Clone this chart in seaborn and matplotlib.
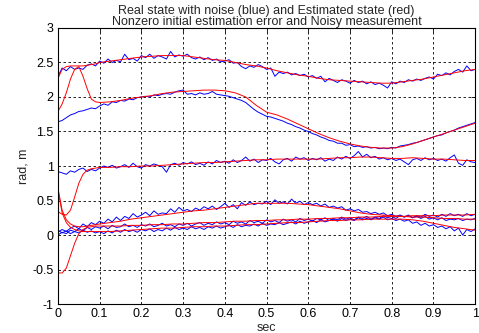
import numpy as np
import pandas as pd
import seaborn as sns
import matplotlib
matplotlib.use("Agg")
import matplotlib.pyplot as plt

# time grid of the noisy measurements (0 .. 1 sec, 101 samples)
t_meas = np.linspace(0, 1, 101)

# real state with noise (blue)
real_1 = [2.30, 2.42, 2.38, 2.44, 2.40, 2.42, 2.40, 2.46, 2.48, 2.45,
          2.52, 2.49, 2.55, 2.50, 2.53, 2.51, 2.62, 2.54, 2.56, 2.52,
          2.60, 2.57, 2.62, 2.56, 2.60, 2.58, 2.55, 2.66, 2.58, 2.61,
          2.59, 2.62, 2.57, 2.55, 2.58, 2.54, 2.57, 2.53, 2.55, 2.51,
          2.52, 2.54, 2.49, 2.50, 2.44, 2.41, 2.45, 2.43, 2.47, 2.44,
          2.40, 2.42, 2.30, 2.36, 2.34, 2.36, 2.32, 2.34, 2.31, 2.33,
          2.29, 2.31, 2.27, 2.30, 2.22, 2.27, 2.24, 2.21, 2.25, 2.23,
          2.20, 2.24, 2.21, 2.23, 2.19, 2.22, 2.18, 2.20, 2.17, 2.13,
          2.22, 2.19, 2.23, 2.21, 2.25, 2.23, 2.26, 2.24, 2.27, 2.29,
          2.26, 2.33, 2.31, 2.35, 2.32, 2.37, 2.40, 2.36, 2.45, 2.38,
          2.40]
real_2 = [1.64, 1.66, 1.70, 1.74, 1.76, 1.79, 1.80, 1.82, 1.84, 1.83,
          1.87, 1.90, 1.88, 1.93, 1.92, 1.95, 1.94, 1.97, 1.96, 1.99,
          2.00, 2.01, 2.00, 2.03, 2.02, 2.04, 2.05, 2.04, 2.07, 2.09,
          2.10, 2.04, 2.05, 2.03, 2.06, 2.04, 2.05, 2.08, 2.04, 2.03,
          2.02, 2.01, 1.99, 1.97, 1.95, 1.92, 1.87, 1.82, 1.78, 1.75,
          1.72, 1.71, 1.69, 1.67, 1.65, 1.62, 1.60, 1.57, 1.55, 1.52,
          1.50, 1.47, 1.45, 1.42, 1.40, 1.37, 1.36, 1.33, 1.33, 1.30,
          1.31, 1.28, 1.29, 1.27, 1.28, 1.26, 1.27, 1.25, 1.26, 1.25,
          1.27, 1.26, 1.29, 1.30, 1.31, 1.33, 1.34, 1.36, 1.38, 1.40,
          1.42, 1.44, 1.45, 1.48, 1.50, 1.52, 1.55, 1.57, 1.59, 1.61,
          1.63]
real_3 = [0.92, 0.90, 0.88, 0.93, 0.91, 0.95, 0.97, 0.92, 0.95, 0.93,
          0.97, 1.00, 0.98, 1.01, 0.97, 0.99, 1.02, 0.98, 1.04, 0.99,
          0.97, 1.02, 1.00, 1.03, 1.01, 0.99, 0.91, 1.02, 1.04, 1.01,
          1.05, 1.03, 1.06, 1.02, 1.04, 1.01, 1.06, 1.03, 1.08, 1.05,
          1.07, 1.04, 1.09, 1.05, 1.08, 1.13, 1.07, 1.10, 1.05, 1.09,
          1.08, 1.11, 1.06, 1.03, 1.09, 1.11, 1.07, 1.13, 1.10, 1.12,
          1.08, 1.11, 1.09, 1.12, 1.07, 1.10, 1.08, 1.13, 1.10, 1.14,
          1.11, 1.15, 1.21, 1.13, 1.17, 1.12, 1.14, 1.10, 1.12, 1.09,
          1.11, 1.08, 1.10, 1.06, 1.02, 1.09, 1.11, 1.08, 1.12, 1.09,
          1.11, 1.08, 1.10, 1.07, 1.12, 1.16, 1.04, 1.01, 1.09, 1.06,
          1.05]
real_4 = [0.04, 0.08, 0.05, 0.10, 0.13, 0.09, 0.16, 0.12, 0.18, 0.15,
          0.20, 0.17, 0.23, 0.19, 0.26, 0.21, 0.27, 0.24, 0.31, 0.26,
          0.29, 0.33, 0.28, 0.35, 0.30, 0.32, 0.31, 0.38, 0.33, 0.40,
          0.35, 0.37, 0.34, 0.39, 0.36, 0.41, 0.38, 0.42, 0.37, 0.41,
          0.46, 0.40, 0.44, 0.38, 0.47, 0.43, 0.48, 0.44, 0.46, 0.45,
          0.49, 0.44, 0.51, 0.46, 0.48, 0.45, 0.52, 0.46, 0.49, 0.44,
          0.47, 0.44, 0.46, 0.42, 0.45, 0.40, 0.42, 0.39, 0.41, 0.36,
          0.38, 0.35, 0.37, 0.33, 0.34, 0.31, 0.33, 0.30, 0.32, 0.28,
          0.30, 0.27, 0.29, 0.26, 0.28, 0.25, 0.27, 0.24, 0.27, 0.23,
          0.25, 0.22, 0.25, 0.21, 0.23, 0.22, 0.24, 0.21, 0.23, 0.22,
          0.24]
real_5 = [0.00, 0.04, 0.02, 0.07, 0.05, 0.09, 0.06, 0.11, 0.08, 0.12,
          0.10, 0.13, 0.09, 0.14, 0.11, 0.12, 0.16, 0.12, 0.14, 0.11,
          0.15, 0.13, 0.16, 0.12, 0.14, 0.17, 0.13, 0.15, 0.12, 0.16,
          0.14, 0.17, 0.13, 0.16, 0.18, 0.14, 0.17, 0.15, 0.19, 0.16,
          0.18, 0.15, 0.20, 0.17, 0.19, 0.16, 0.21, 0.18, 0.20, 0.17,
          0.22, 0.19, 0.21, 0.18, 0.23, 0.20, 0.22, 0.19, 0.24, 0.21,
          0.23, 0.20, 0.24, 0.22, 0.25, 0.21, 0.24, 0.22, 0.26, 0.23,
          0.25, 0.22, 0.26, 0.24, 0.27, 0.23, 0.26, 0.24, 0.28, 0.25,
          0.27, 0.24, 0.28, 0.26, 0.29, 0.25, 0.28, 0.26, 0.30, 0.27,
          0.29, 0.26, 0.30, 0.27, 0.31, 0.28, 0.30, 0.27, 0.31, 0.28,
          0.30]
real_6 = [0.07, 0.03, 0.06, 0.02, 0.05, 0.03, 0.07, 0.04, 0.06, 0.03,
          0.05, 0.02, 0.06, 0.03, 0.07, 0.04, 0.08, 0.05, 0.07, 0.04,
          0.08, 0.06, 0.09, 0.05, 0.08, 0.06, 0.10, 0.07, 0.11, 0.08,
          0.10, 0.08, 0.12, 0.09, 0.11, 0.08, 0.12, 0.10, 0.13, 0.10,
          0.12, 0.14, 0.11, 0.15, 0.12, 0.14, 0.13, 0.16, 0.13, 0.17,
          0.14, 0.16, 0.15, 0.18, 0.15, 0.17, 0.19, 0.16, 0.20, 0.17,
          0.19, 0.21, 0.18, 0.22, 0.19, 0.21, 0.23, 0.20, 0.24, 0.21,
          0.23, 0.21, 0.25, 0.22, 0.24, 0.22, 0.25, 0.23, 0.26, 0.22,
          0.24, 0.21, 0.23, 0.20, 0.22, 0.17, 0.19, 0.14, 0.17, 0.13,
          0.15, 0.11, 0.13, 0.09, 0.12, 0.06, 0.10, 0.00, 0.08, 0.05,
          0.09]

# time points of the estimated states (dense during the initial transient)
t_est = [0.0, 0.01, 0.02, 0.03, 0.04, 0.05, 0.06, 0.07, 0.08, 0.09,
         0.1, 0.125, 0.15, 0.175, 0.2, 0.225, 0.25, 0.275, 0.3, 0.325,
         0.35, 0.375, 0.4, 0.425, 0.45, 0.475, 0.5, 0.525, 0.55, 0.575,
         0.6, 0.625, 0.65, 0.675, 0.7, 0.725, 0.75, 0.775, 0.8, 0.825,
         0.85, 0.875, 0.9, 0.925, 0.95, 0.975, 1.0]

# estimated states (red)
est_1 = [2.27, 2.40, 2.44, 2.45, 2.45, 2.45, 2.45, 2.46, 2.47, 2.48,
         2.50, 2.52, 2.54, 2.56, 2.58, 2.59, 2.60, 2.60, 2.60, 2.58,
         2.56, 2.54, 2.53, 2.50, 2.47, 2.45, 2.42, 2.38, 2.35, 2.32,
         2.30, 2.27, 2.25, 2.24, 2.23, 2.22, 2.21, 2.20, 2.20, 2.22,
         2.24, 2.26, 2.29, 2.32, 2.35, 2.38, 2.40]
est_2 = [1.79, 1.90, 2.06, 2.26, 2.40, 2.44, 2.30, 2.12, 1.97, 1.93,
         1.92, 1.93, 1.95, 1.98, 2.00, 2.02, 2.05, 2.07, 2.08, 2.09,
         2.10, 2.10, 2.09, 2.06, 2.00, 1.88, 1.78, 1.74, 1.68, 1.61,
         1.54, 1.47, 1.41, 1.36, 1.32, 1.29, 1.27, 1.26, 1.26, 1.28,
         1.32, 1.37, 1.42, 1.47, 1.52, 1.57, 1.62]
est_3 = [0.34, 0.30, 0.29, 0.36, 0.55, 0.75, 0.88, 0.94, 0.96, 0.97,
         0.98, 0.98, 0.99, 0.99, 1.00, 1.00, 1.01, 1.02, 1.03, 1.04,
         1.05, 1.05, 1.06, 1.07, 1.08, 1.09, 1.09, 1.10, 1.10, 1.10,
         1.10, 1.10, 1.11, 1.12, 1.12, 1.13, 1.13, 1.12, 1.11, 1.11,
         1.12, 1.11, 1.10, 1.10, 1.09, 1.08, 1.08]
est_4 = [0.68, 0.36, 0.22, 0.16, 0.13, 0.12, 0.12, 0.13, 0.14, 0.15,
         0.16, 0.18, 0.20, 0.23, 0.25, 0.27, 0.29, 0.31, 0.33, 0.35,
         0.36, 0.38, 0.40, 0.42, 0.44, 0.46, 0.46, 0.46, 0.46, 0.45,
         0.44, 0.42, 0.40, 0.38, 0.35, 0.32, 0.30, 0.29, 0.28, 0.27,
         0.26, 0.26, 0.25, 0.24, 0.24, 0.23, 0.23]
est_5 = [-0.55, -0.55, -0.48, -0.30, -0.12, 0.02, 0.08, 0.11, 0.12, 0.13,
         0.13, 0.13, 0.13, 0.14, 0.14, 0.15, 0.15, 0.16, 0.16, 0.17,
         0.18, 0.18, 0.19, 0.20, 0.20, 0.21, 0.21, 0.22, 0.22, 0.23,
         0.23, 0.24, 0.24, 0.25, 0.25, 0.26, 0.26, 0.27, 0.27, 0.27,
         0.28, 0.28, 0.28, 0.29, 0.29, 0.29, 0.30]
est_6 = [0.65, 0.32, 0.18, 0.11, 0.08, 0.06, 0.05, 0.05, 0.05, 0.05,
         0.05, 0.05, 0.06, 0.07, 0.08, 0.09, 0.10, 0.10, 0.11, 0.12,
         0.12, 0.13, 0.13, 0.14, 0.15, 0.15, 0.16, 0.17, 0.18, 0.18,
         0.19, 0.20, 0.21, 0.21, 0.22, 0.22, 0.23, 0.23, 0.23, 0.23,
         0.22, 0.20, 0.17, 0.14, 0.11, 0.09, 0.07]

x_ticks = [0, 0.1, 0.2, 0.3, 0.4, 0.5, 0.6, 0.7, 0.8, 0.9, 1]
x_labels = ["0", "0.1", "0.2", "0.3", "0.4", "0.5", "0.6", "0.7", "0.8", "0.9", "1"]
y_ticks = [-1, -0.5, 0, 0.5, 1, 1.5, 2, 2.5, 3]
y_labels = ["-1", "-0.5", "0", "0.5", "1", "1.5", "2", "2.5", "3"]

sns.set_style("white")
plt.rcParams["font.family"] = ["Liberation Sans", "DejaVu Sans"]
plt.rcParams["font.size"] = 9

fig = plt.figure(figsize=(4.79, 3.33), dpi=100)
ax = fig.add_axes([0.121, 0.087, 0.871, 0.829])

for ys in [real_1, real_2, real_3, real_4, real_5, real_6]:
    sns.lineplot(x=t_meas, y=ys, color="#0000ff", linewidth=0.7, ax=ax)
for ys in [est_1, est_2, est_3, est_4, est_5, est_6]:
    sns.lineplot(x=t_est, y=ys, color="#ff0000", linewidth=0.7, ax=ax)

ax.set_xlim(0, 1)
ax.set_ylim(-1, 3)
ax.set_xticks(x_ticks)
ax.set_xticklabels(x_labels)
ax.set_yticks(y_ticks)
ax.set_yticklabels(y_labels)
ax.grid(True, color="black", linestyle=(0, (3, 3)), linewidth=0.6)
ax.tick_params(direction="in", length=3, width=0.6, colors="black",
               top=True, right=True, labelsize=9, pad=3)
for s in ax.spines.values():
    s.set_color("black")
    s.set_linewidth(0.8)

ax.set_title("Real state with noise (blue) and Estimated state (red)\n"
             "Nonzero initial estimation error and Noisy measurement",
             fontsize=9, pad=2, linespacing=0.95)
ax.set_xlabel("sec", fontsize=9, labelpad=1)
ax.set_ylabel("rad, m", fontsize=9, labelpad=2)

fig.savefig("out.png", dpi=100)
